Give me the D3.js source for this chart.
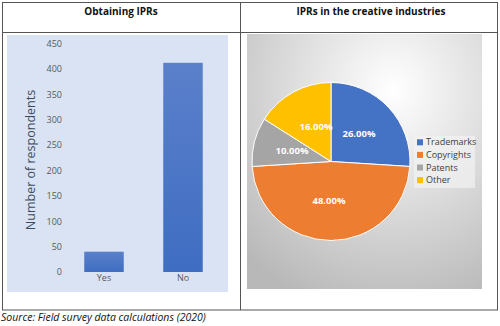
<!DOCTYPE html>
<html><head><meta charset="utf-8">
<script src="https://cdn.jsdelivr.net/npm/d3@7"></script>
<style>body{margin:0;background:#fff}svg{display:block}</style>
</head><body>
<svg id="c" width="500" height="326"></svg>
<script>
const barCategories = ["Yes", "No"];
const barValues = [40, 412];
const yTicks = [0, 50, 100, 150, 200, 250, 300, 350, 400, 450];
const pieCategories = ["Trademarks", "Copyrights", "Patents", "Other"];
const pieValues = [26, 48, 10, 16];
const pieColors = ["#4472c4", "#ed7d31", "#a5a5a5", "#ffc000"];
const titles = ["Obtaining IPRs", "IPRs in the creative industries"];
const sourceText = "Source: Field survey data calculations (2020)";

const svg = d3.select("#c");
const font = "'Open Sans', sans-serif";
const defs = svg.append("defs");

// table borders
const tb = svg.append("g").attr("stroke", "#555").attr("stroke-width", 1).attr("fill", "none");
tb.append("rect").attr("x", 2.5).attr("y", 2.5).attr("width", 495).attr("height", 307.5);
tb.append("line").attr("x1", 2.5).attr("x2", 497.5).attr("y1", 32.5).attr("y2", 32.5);
tb.append("line").attr("x1", 240.5).attr("x2", 240.5).attr("y1", 2.5).attr("y2", 310);

// titles
svg.append("text").attr("x", 121).attr("y", 15).attr("text-anchor", "middle")
  .attr("font-family", font).attr("font-weight", "bold").attr("font-size", 10).attr("fill", "#111").text(titles[0]);
svg.append("text").attr("x", 371).attr("y", 15).attr("text-anchor", "middle")
  .attr("font-family", font).attr("font-weight", "bold").attr("font-size", 10).attr("fill", "#111").text(titles[1]);

// left chart background
svg.append("rect").attr("x", 7).attr("y", 35).attr("width", 221).attr("height", 257).attr("fill", "#dae3f3");

const y = d3.scaleLinear().domain([0, 450]).range([272, 43.5]);
const xb = d3.scaleBand().domain(barCategories).range([64.5, 222.5]).paddingInner(0.5).paddingOuter(0.25);

const grad = defs.append("linearGradient").attr("id", "bg").attr("x1", 0).attr("y1", 0).attr("x2", 0).attr("y2", 1);
grad.append("stop").attr("offset", "0%").attr("stop-color", "#5b80cb");
grad.append("stop").attr("offset", "100%").attr("stop-color", "#3f6dc2");

svg.append("g").selectAll("rect").data(barValues).join("rect")
  .attr("x", (d, i) => xb(barCategories[i]))
  .attr("width", xb.bandwidth())
  .attr("y", d => y(d))
  .attr("height", d => y(0) - y(d))
  .attr("fill", "url(#bg)");

const yAxis = svg.append("g").attr("transform", "translate(62,0)")
  .call(d3.axisLeft(y).tickValues(yTicks).tickSize(0).tickPadding(0));
yAxis.select(".domain").remove();
yAxis.selectAll("text").attr("font-family", font).attr("font-size", 9).attr("fill", "#595959");

const xAxis = svg.append("g").attr("transform", "translate(0,274)")
  .call(d3.axisBottom(xb).tickSize(0).tickPadding(1));
xAxis.select(".domain").remove();
xAxis.selectAll("text").attr("font-family", font).attr("font-size", 9).attr("fill", "#595959");

svg.append("text").attr("transform", "translate(35,160) rotate(-90)").attr("text-anchor", "middle")
  .attr("font-family", font).attr("font-size", 12.5).attr("font-weight", 500).attr("fill", "#3a4a60").text("Number of respondents");

// right panel background
const rg = defs.append("radialGradient").attr("id", "rg").attr("cx", "0.62").attr("cy", "0.22").attr("r", "0.9");
rg.append("stop").attr("offset", "0%").attr("stop-color", "#ffffff");
rg.append("stop").attr("offset", "100%").attr("stop-color", "#b8b8b8");
svg.append("rect").attr("x", 247).attr("y", 34).attr("width", 235).attr("height", 255).attr("fill", "url(#rg)");

// pie
const cx = 331, cy = 161.5, r = 79;
const pie = d3.pie().sort(null).value(d => d);
const arcs = pie(pieValues);
const arc = d3.arc().innerRadius(0).outerRadius(r);
const pg = svg.append("g").attr("transform", `translate(${cx},${cy})`);
pg.selectAll("path").data(arcs).join("path")
  .attr("d", arc).attr("fill", (d, i) => pieColors[i]).attr("stroke", "#fff").attr("stroke-width", 1);
const labelPos = [[28, -28], [-2, 39], [-39, -11], [-15, -35]];
pg.selectAll("text.l").data(arcs).join("text").attr("class", "l")
  .attr("x", (d, i) => labelPos[i][0]).attr("y", (d, i) => labelPos[i][1])
  .attr("dy", "0.35em").attr("text-anchor", "middle")
  .attr("font-family", font).attr("font-weight", "bold").attr("font-size", 9.5).attr("fill", "#fff")
  .text(d => d.data.toFixed(2) + "%");

// legend
svg.append("rect").attr("x", 414).attr("y", 136).attr("width", 61).attr("height", 52).attr("fill", "#f2f2f2").attr("opacity", 0.7);
const lg = svg.append("g").selectAll("g").data(pieCategories).join("g")
  .attr("transform", (d, i) => `translate(417,${142.3 + i * 12.6})`);
lg.append("rect").attr("x", 0).attr("y", -3).attr("width", 6).attr("height", 6).attr("fill", (d, i) => pieColors[i]);
lg.append("text").attr("x", 9).attr("dy", "0.35em").attr("font-family", font).attr("font-size", 9)
  .attr("fill", "#404040").text(d => d);

// source
svg.append("text").attr("x", 1).attr("y", 321).attr("font-family", font).attr("font-style", "italic")
  .attr("font-size", 10.5).attr("fill", "#111").text(sourceText);
</script>
</body></html>
